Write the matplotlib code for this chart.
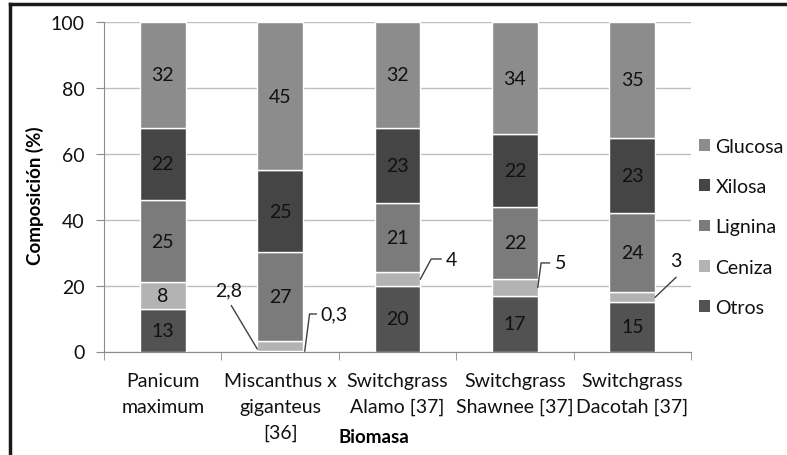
import matplotlib
matplotlib.use("Agg")
import matplotlib.pyplot as plt
import numpy as np
from matplotlib.lines import Line2D
from matplotlib.patches import Patch

plt.rcParams["font.family"] = ["Lato", "DejaVu Sans"]
fs = 14

# data, bottom to top of each stack
categories = ["Panicum\nmaximum", "Miscanthus x\ngiganteus\n[36]",
              "Switchgrass\nAlamo [37]", "Switchgrass\nShawnee [37]",
              "Switchgrass\nDacotah [37]"]
otros = [13, 0.3, 20, 17, 15]
ceniza = [8, 2.8, 4, 5, 3]
lignina = [25, 27, 21, 22, 24]
xilosa = [22, 25, 23, 22, 23]
glucosa = [32, 45, 32, 34, 35]

series = [("Otros", otros, "#525252"),
          ("Ceniza", ceniza, "#b3b3b3"),
          ("Lignina", lignina, "#7b7b7b"),
          ("Xilosa", xilosa, "#454545"),
          ("Glucosa", glucosa, "#8c8c8c")]

fig = plt.figure(figsize=(7.87, 4.56), dpi=100)
ax = fig.add_axes([104 / 787, 1 - 352.5 / 456, 587 / 787, 329.2 / 456])

x = np.arange(len(categories))
width = 0.39
bottom = np.zeros(len(categories))
for name, vals, color in series:
    vals = np.array(vals, dtype=float)
    ax.bar(x, vals, width, bottom=bottom, color=color,
           edgecolor="white", linewidth=1, zorder=3)
    for xi, b, v in zip(x, bottom, vals):
        if v >= 8:
            ax.text(xi, b + v / 2, f"{v:g}", ha="center", va="center",
                    fontsize=fs, color="#111111", zorder=4)
    bottom += vals


# small segments labelled with leader lines
def leader(ax, text, pts, tx, ty, ha="center"):
    xs, ys = zip(*pts)
    ax.plot(xs, ys, color="#404040", linewidth=1, zorder=5, clip_on=False)
    ax.text(tx, ty, text, ha=ha, va="center", fontsize=fs, color="#111111")


cen_mid = [o + c / 2 for o, c in zip(otros, ceniza)]
right = x + width / 2
left = x - width / 2

leader(ax, "2,8", [(0.585, 13.9), (left[1], 0.8)], 0.56, 18.8)
leader(ax, "0,3", [(1.21, otros[1] / 2), (1.251, 11.4), (1.308, 11.4)],
       1.345, 11.4, ha="left")
leader(ax, "4", [(right[2], cen_mid[2]), (2.287, 28.1), (2.372, 28.1)],
       2.46, 27.8)
leader(ax, "5", [(right[3], cen_mid[3]), (3.223, 26.9), (3.294, 26.9)],
       3.393, 26.9)
leader(ax, "3", [(right[4], cen_mid[4]), (4.372, 22.5)], 4.372, 27.5)

ax.set_xlim(-0.5, len(categories) - 0.5)
ax.set_ylim(0, 100)
ax.set_yticks(np.arange(0, 101, 20))
ax.set_xticks(x)
ax.set_xticklabels(categories, fontsize=fs, color="#111111", linespacing=1.6)
ax.set_xticks(np.arange(-0.5, len(categories)), minor=True)
ax.tick_params(axis="x", which="major", length=0, pad=15)
ax.tick_params(axis="x", which="minor", length=6, color="#8c8c8c", direction="out")
ax.tick_params(axis="y", length=6, color="#8c8c8c", labelsize=fs,
               labelcolor="#111111", pad=8)
ax.grid(axis="y", color="#bfbfbf", linewidth=1, zorder=0)
for side in ["top", "right"]:
    ax.spines[side].set_visible(False)
for side in ["left", "bottom"]:
    ax.spines[side].set_color("#8c8c8c")

fig.text(35 / 787, 1 - 196 / 456, "Composición (%)", rotation=90,
         ha="center", va="center", fontsize=13.5, fontweight="bold")
fig.text(374 / 787, 1 - 438 / 456, "Biomasa", ha="center", va="center",
         fontsize=13.5, fontweight="bold")

handles = [Patch(facecolor=c, label=n) for n, _, c in reversed(series)]
fig.legend(handles=handles, loc="center left", bbox_to_anchor=(0.888, 0.5),
           frameon=False, fontsize=fs, handlelength=0.55, handleheight=0.55,
           handletextpad=0.3, labelspacing=1.2, labelcolor="#111111",
           borderpad=0, borderaxespad=0)

# frame lines of the original picture (top and left only)
fig.add_artist(Line2D([10 / 787, 1], [1 - 5 / 456, 1 - 5 / 456],
                      transform=fig.transFigure, color="#1a1a1a", linewidth=2.5))
fig.add_artist(Line2D([10 / 787, 10 / 787], [0, 1 - 5 / 456],
                      transform=fig.transFigure, color="#1a1a1a", linewidth=2.5))

fig.savefig("out.png", dpi=100)
